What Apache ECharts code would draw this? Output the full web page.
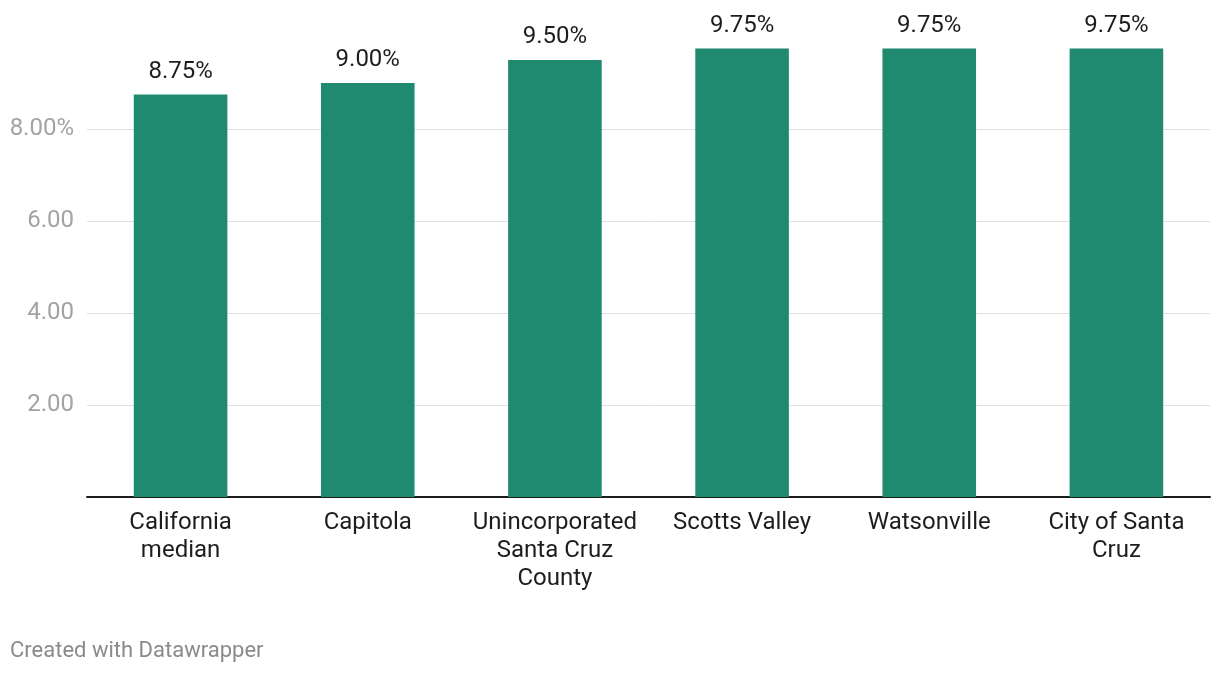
<!DOCTYPE html>
<html>
<head>
<meta charset="utf-8">
<script src="https://cdn.jsdelivr.net/npm/echarts@6/dist/echarts.min.js"></script>
<style>
html,body{margin:0;padding:0;background:#fff;}
#chart{width:1220px;height:674px;}
</style>
</head>
<body>
<div id="chart"></div>
<script>
const categories = ["California median", "Capitola", "Unincorporated Santa Cruz County", "Scotts Valley", "Watsonville", "City of Santa Cruz"];
const tickLabels = ["California\nmedian", "Capitola", "Unincorporated\nSanta Cruz\nCounty", "Scotts Valley", "Watsonville", "City of Santa\nCruz"];
const taxRates = [8.75, 9.00, 9.50, 9.75, 9.75, 9.75];
const yTicks = [0, 2, 4, 6, 8, 10];

const chart = echarts.init(document.getElementById('chart'));
chart.setOption({
  animation: false,
  textStyle: { fontFamily: 'Roboto' },
  grid: { left: 87, right: 10, top: 37, bottom: 177, containLabel: false },
  graphic: [{
    type: 'text', left: 10, top: 640,
    style: { text: 'Created with Datawrapper', fill: '#8a8a8a', font: '22px Roboto' }
  }],
  xAxis: {
    type: 'category',
    data: categories,
    axisLine: { lineStyle: { color: '#1d1d1d', width: 2 } },
    axisTick: { show: false },
    axisLabel: {
      color: '#1d1d1d', fontSize: 24, lineHeight: 28, margin: 12,
      interval: 0,
      formatter: (v, i) => tickLabels[i]
    }
  },
  yAxis: {
    type: 'value',
    min: yTicks[0], max: yTicks[yTicks.length - 1], interval: 2,
    axisLine: { show: false },
    axisTick: { show: false },
    splitLine: { show: true, showMinLine: false, showMaxLine: false, lineStyle: { color: '#e0e0e0', width: 1 } },
    axisLabel: {
      showMinLabel: false, showMaxLabel: false,
      color: '#a3a3a3', fontSize: 24, margin: 13,
      formatter: v => v === 8 ? v.toFixed(2) + '%' : v.toFixed(2)
    }
  },
  series: [{
    type: 'bar',
    data: taxRates,
    barWidth: '50%',
    itemStyle: { color: '#1f8a70' },
    label: {
      show: true, position: 'top', distance: 11,
      color: '#1d1d1d', fontSize: 24,
      formatter: p => p.value.toFixed(2) + '%'
    }
  }]
});
</script>
</body>
</html>
